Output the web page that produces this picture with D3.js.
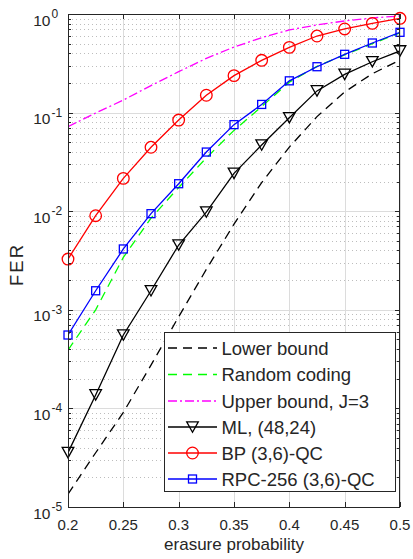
<!DOCTYPE html>
<html>
<head>
<meta charset="utf-8">
<script src="https://cdn.jsdelivr.net/npm/d3@7/dist/d3.min.js"></script>
<style>
  html, body { margin: 0; padding: 0; background: #fff; }
  svg { display: block; }
  text { font-family: "Liberation Sans", Arial, Helvetica, sans-serif; fill: #262626; }
</style>
</head>
<body>
<svg id="chart" width="413" height="559"></svg>
<script>
// ---- data ----
const erasureProb = [0.2, 0.225, 0.25, 0.275, 0.3, 0.325, 0.35, 0.375, 0.4, 0.425, 0.45, 0.475, 0.5];
const lowerBound = [1.35e-5, 3.55e-5, 9.1e-5, 2.75e-4, 8.5e-4, 2.57e-3, 7.4e-3, 0.0195, 0.0447, 0.091, 0.162, 0.248, 0.341];
const randomCoding = [3.9e-4, 1.0e-3, 3.4e-3, 8.5e-3, 0.0174, 0.0347, 0.066, 0.115, 0.204, 0.295, 0.385, 0.50, 0.645];
const upperBoundJ3 = [0.072, 0.099, 0.134, 0.188, 0.26, 0.355, 0.462, 0.575, 0.69, 0.775, 0.85, 0.912, 0.955];
const mlCode = [3.56e-5, 1.37e-4, 5.55e-4, 1.56e-3, 4.54e-3, 9.8e-3, 0.0242, 0.0469, 0.0887, 0.166, 0.244, 0.328, 0.422];
const bpQC = [3.27e-3, 9.0e-3, 0.0215, 0.0445, 0.084, 0.15, 0.237, 0.339, 0.459, 0.598, 0.705, 0.804, 0.904];
const rpcQC = [5.55e-4, 1.56e-3, 4.14e-3, 9.44e-3, 0.019, 0.0398, 0.0755, 0.121, 0.21, 0.292, 0.39, 0.508, 0.652];

const xTicks = [0.2, 0.25, 0.3, 0.35, 0.4, 0.45, 0.5];
const xTickLabels = ["0.2", "0.25", "0.3", "0.35", "0.4", "0.45", "0.5"];
const yExponents = [0, -1, -2, -3, -4, -5];
const seriesNames = ["Lower bound", "Random coding", "Upper bound, J=3", "ML, (48,24)", "BP (3,6)-QC", "RPC-256 (3,6)-QC"];
const xLabel = "erasure probability";
const yLabel = "FER";

// ---- layout ----
const L = 68, R = 400, T = 14, B = 507;
const svg = d3.select("#chart");
const x = d3.scaleLinear().domain([0.2, 0.5]).range([L, R]);
const y = d3.scaleLog().domain([1e-5, 1]).range([B, T]);

const styles = [
  { values: lowerBound, color: "#000000", dash: "9,6", marker: null },
  { values: randomCoding, color: "#00ff00", dash: "9,6", marker: null },
  { values: upperBoundJ3, color: "#ff00ff", dash: "9,3,2,3", marker: null },
  { values: mlCode, color: "#000000", dash: null, marker: "tri" },
  { values: bpQC, color: "#ff0000", dash: null, marker: "circle" },
  { values: rpcQC, color: "#0000ff", dash: null, marker: "square" }
];

// ---- grid ----
const grid = svg.append("g");
const minorVals = [];
for (let e = -5; e < 0; e++) for (let m = 2; m <= 9; m++) minorVals.push(m * Math.pow(10, e));
grid.selectAll("line.minor").data(minorVals).join("line")
  .attr("x1", L).attr("x2", R)
  .attr("y1", d => Math.round(y(d)) + 0.5).attr("y2", d => Math.round(y(d)) + 0.5)
  .attr("stroke", "#bdbdbd").attr("stroke-width", 1).attr("stroke-dasharray", "1,3");
grid.selectAll("line.majy").data(yExponents.map(e => Math.pow(10, e))).join("line")
  .attr("x1", L).attr("x2", R)
  .attr("y1", d => Math.round(y(d)) + 0.5).attr("y2", d => Math.round(y(d)) + 0.5)
  .attr("stroke", "#dcdcdc").attr("stroke-width", 1);
grid.selectAll("line.majx").data(xTicks).join("line")
  .attr("x1", d => Math.round(x(d)) + 0.5).attr("x2", d => Math.round(x(d)) + 0.5)
  .attr("y1", T).attr("y2", B)
  .attr("stroke", "#dcdcdc").attr("stroke-width", 1);

// ---- series ----
svg.append("clipPath").attr("id", "clip").append("rect")
  .attr("x", L).attr("y", T).attr("width", R - L).attr("height", B - T);
const plot = svg.append("g").attr("clip-path", "url(#clip)");
const line = d3.line().x((d, i) => x(erasureProb[i])).y(d => y(d));

function drawMarker(g, type, cx, cy, color) {
  if (type === "circle") {
    g.append("circle").attr("cx", cx).attr("cy", cy).attr("r", 5.8)
      .attr("fill", "none").attr("stroke", color).attr("stroke-width", 1.3);
  } else if (type === "square") {
    g.append("rect").attr("x", cx - 4).attr("y", cy - 4).attr("width", 8).attr("height", 8)
      .attr("fill", "none").attr("stroke", color).attr("stroke-width", 1.3);
  } else if (type === "tri") {
    const w = 5.8, h = 5.2;
    g.append("path").attr("d", `M${cx - w},${cy - h}L${cx + w},${cy - h}L${cx},${cy + h}Z`)
      .attr("fill", "none").attr("stroke", color).attr("stroke-width", 1.3);
  }
}

styles.forEach(s => {
  plot.append("path").datum(s.values).attr("d", line)
    .attr("fill", "none").attr("stroke", s.color).attr("stroke-width", 1.3)
    .attr("stroke-dasharray", s.dash);
});
styles.forEach(s => {
  if (!s.marker) return;
  const g = svg.append("g");
  s.values.forEach((v, i) => drawMarker(g, s.marker, x(erasureProb[i]), y(v), s.color));
});

// ---- axes box & ticks ----
const ax = svg.append("g").attr("stroke", "#262626").attr("stroke-width", 1);
ax.append("rect").attr("x", L + 0.5).attr("y", T + 0.5).attr("width", R - L - 1).attr("height", B - T)
  .attr("fill", "none");
xTicks.forEach(t => {
  const px = Math.round(x(t)) + 0.5;
  ax.append("line").attr("x1", px).attr("x2", px).attr("y1", B).attr("y2", B - 5);
  ax.append("line").attr("x1", px).attr("x2", px).attr("y1", T).attr("y2", T + 5);
});
yExponents.forEach(e => {
  const py = Math.round(y(Math.pow(10, e))) + 0.5;
  ax.append("line").attr("x1", L).attr("x2", L + 5).attr("y1", py).attr("y2", py);
  ax.append("line").attr("x1", R).attr("x2", R - 5).attr("y1", py).attr("y2", py);
});
minorVals.forEach(v => {
  const py = Math.round(y(v)) + 0.5;
  ax.append("line").attr("x1", L).attr("x2", L + 3).attr("y1", py).attr("y2", py);
  ax.append("line").attr("x1", R).attr("x2", R - 3).attr("y1", py).attr("y2", py);
});

// tick labels
svg.selectAll("text.xt").data(xTicks).join("text")
  .attr("x", d => x(d)).attr("y", 530).attr("text-anchor", "middle")
  .attr("font-size", "15px").text((d, i) => xTickLabels[i]);
yExponents.forEach(e => {
  const py = y(Math.pow(10, e));
  svg.append("text").attr("x", 50.5).attr("y", py + 11.5).attr("text-anchor", "end")
    .attr("font-size", "15.5px").text("10");
  svg.append("text").attr("x", 51.5).attr("y", py + 4).attr("text-anchor", "start")
    .attr("font-size", "12px").text(String(e));
});

// axis labels
svg.append("text").attr("x", (L + R) / 2).attr("y", 550).attr("text-anchor", "middle")
  .attr("font-size", "17px").text(xLabel);
svg.append("text").attr("transform", `translate(23,264.5) rotate(-90)`)
  .attr("text-anchor", "middle").attr("font-size", "18.5px").attr("letter-spacing", "2px").text(yLabel);

// ---- legend ----
const lg = svg.append("g");
lg.append("rect").attr("x", 164.5).attr("y", 332.5).attr("width", 231).attr("height", 159)
  .attr("fill", "#fff").attr("stroke", "#262626").attr("stroke-width", 1);
const rowY = [348, 374.5, 401, 427, 453, 479];
styles.forEach((s, i) => {
  const cy = rowY[i];
  lg.append("line").attr("x1", 168).attr("x2", 217).attr("y1", cy).attr("y2", cy)
    .attr("stroke", s.color).attr("stroke-width", 1.3).attr("stroke-dasharray", s.dash);
  if (s.marker) drawMarker(lg, s.marker, 192.5, cy, s.color);
  lg.append("text").attr("x", 221.5).attr("y", cy + 6.5).attr("font-size", "18.5px").text(seriesNames[i]);
});
</script>
</body>
</html>
